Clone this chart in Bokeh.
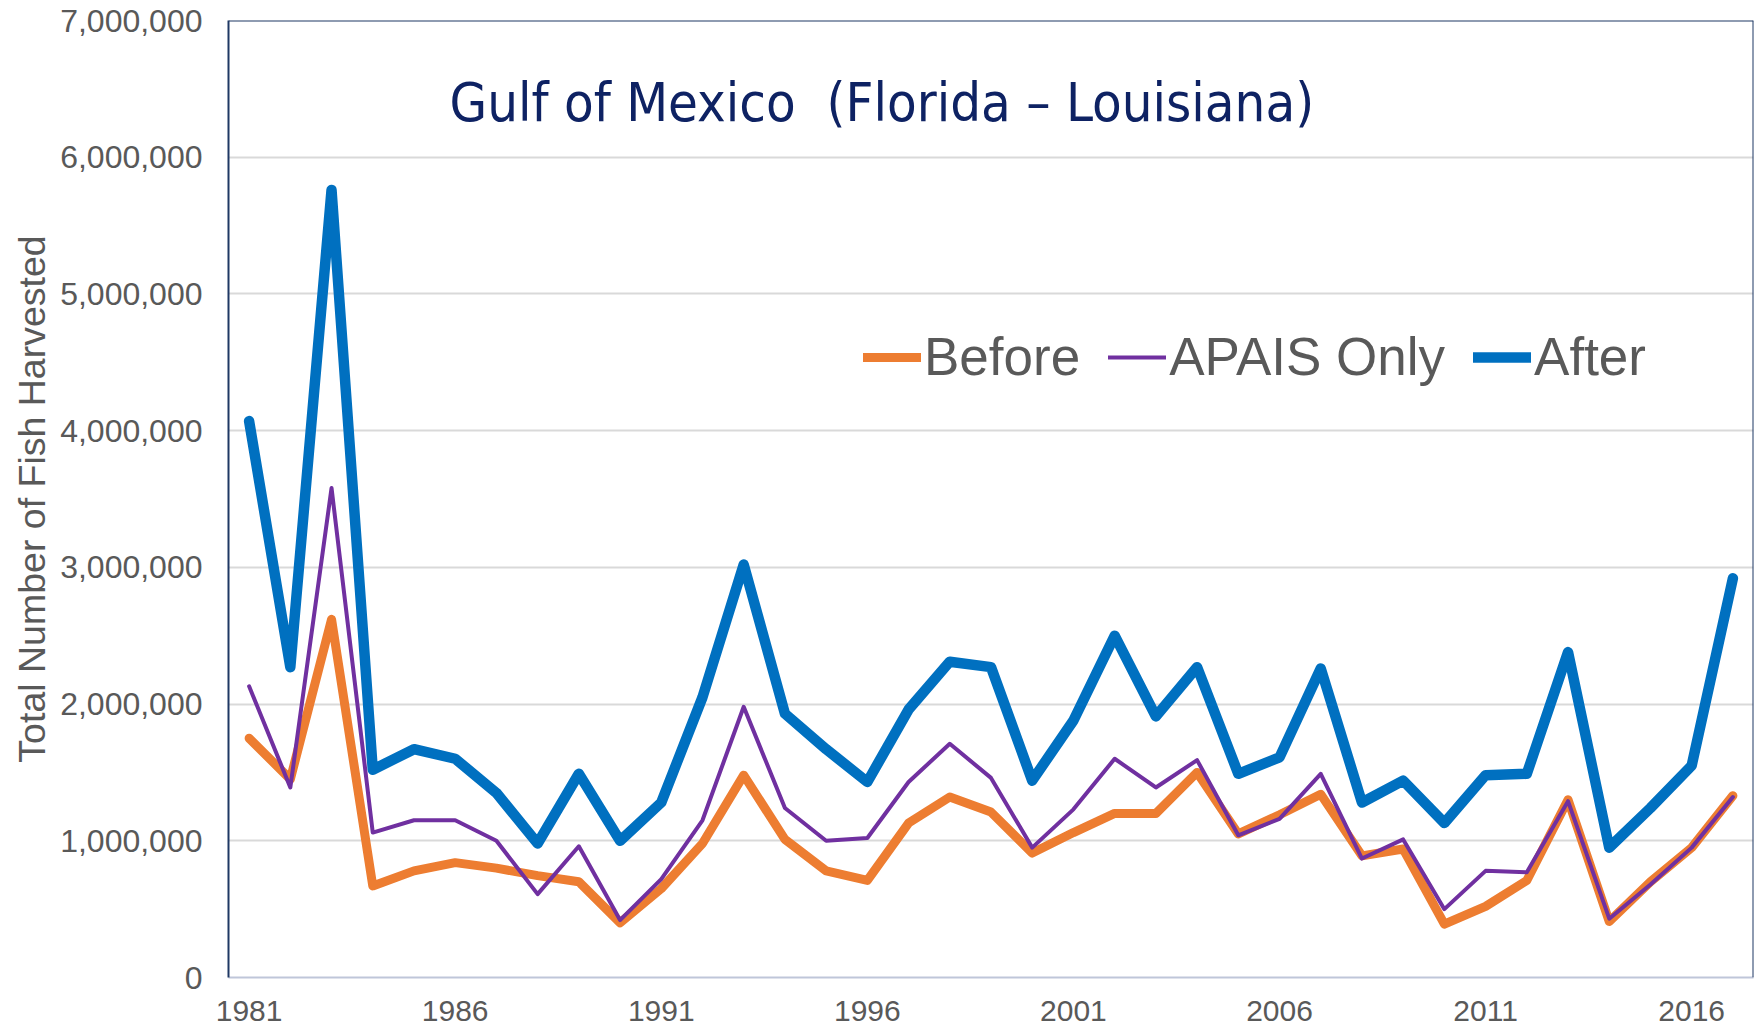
from bokeh.plotting import figure
from bokeh.models import FixedTicker, NumeralTickFormatter, Span, Label, Legend, LegendItem
from bokeh.embed import file_html
from bokeh.resources import INLINE

# ---- data ----
years = list(range(1981, 2018))
before = [1750000, 1450000, 2620000, 670000, 780000, 840000, 800000, 745000, 700000, 400000,
          650000, 980000, 1480000, 1010000, 780000, 710000, 1130000, 1320000, 1210000, 910000,
          1060000, 1200000, 1200000, 1500000, 1050000, 1190000, 1340000, 890000, 940000, 390000,
          520000, 710000, 1300000, 410000, 700000, 950000, 1330000]
apais = [2130000, 1390000, 3580000, 1060000, 1150000, 1150000, 1000000, 610000, 960000, 420000,
         720000, 1150000, 1980000, 1240000, 1000000, 1020000, 1430000, 1710000, 1460000, 950000,
         1230000, 1600000, 1390000, 1590000, 1040000, 1160000, 1490000, 870000, 1010000, 500000,
         780000, 770000, 1290000, 430000, 680000, 950000, 1320000]
after = [4070000, 2270000, 5760000, 1520000, 1670000, 1600000, 1350000, 980000, 1490000, 1000000,
         1280000, 2050000, 3020000, 1930000, 1670000, 1430000, 1960000, 2310000, 2270000, 1440000,
         1880000, 2500000, 1910000, 2270000, 1490000, 1610000, 2260000, 1280000, 1440000, 1130000,
         1480000, 1490000, 2380000, 950000, 1240000, 1550000, 2920000]
series_names = ["Before", "APAIS Only", "After"]
x_ticks = [1981, 1986, 1991, 1996, 2001, 2006, 2011, 2016]
y_ticks = [0, 1000000, 2000000, 3000000, 4000000, 5000000, 6000000, 7000000]
title_text = "Gulf of Mexico\u00a0 (Florida \u2013 Louisiana)"
y_title = "Total Number of Fish Harvested"

# ---- styles ----
ORANGE = "#ED7D31"
PURPLE = "#7030A0"
BLUE = "#0070C0"
NAVY = "#1F3864"
GREY_TXT = "#595959"
FONT = "Liberation Sans"

p = figure(width=1760, height=1030, output_backend="svg", toolbar_location=None,
           x_range=(1980.5, 2017.5), y_range=(0, 7000000),
           min_border_left=228, min_border_right=7, min_border_top=20, min_border_bottom=53)
p.outline_line_color = None
p.background_fill_color = "white"
p.border_fill_color = "white"

r_before = p.line(years, before, line_color=ORANGE, line_width=9, line_cap="round", line_join="round")
r_apais = p.line(years, apais, line_color=PURPLE, line_width=4, line_cap="round", line_join="round")
r_after = p.line(years, after, line_color=BLUE, line_width=10.5, line_cap="round", line_join="round")

legend = Legend(items=[LegendItem(label=series_names[0], renderers=[r_before]),
                       LegendItem(label=series_names[1], renderers=[r_apais]),
                       LegendItem(label=series_names[2], renderers=[r_after])],
                orientation="horizontal", location=(635, 590),
                label_text_font_size="53px", label_text_color=GREY_TXT, label_text_font=FONT,
                glyph_width=58, glyph_height=50, label_standoff=3, spacing=28,
                padding=0, margin=0, border_line_color=None, background_fill_alpha=0)
p.add_layout(legend)

# x axis
p.xaxis.ticker = FixedTicker(ticks=x_ticks)
p.xaxis.major_tick_line_color = None
p.xaxis.minor_tick_line_color = None
p.xaxis.axis_line_color = "#BFC6D9"
p.xaxis.axis_line_width = 2
p.xaxis.major_label_text_font_size = "30px"
p.xaxis.major_label_text_color = GREY_TXT
p.xaxis.major_label_text_font = FONT
p.xaxis.major_label_standoff = 17
p.xgrid.visible = False

# y axis
p.yaxis.ticker = FixedTicker(ticks=y_ticks)
p.yaxis.formatter = NumeralTickFormatter(format="0,0")
p.yaxis.major_tick_line_color = None
p.yaxis.minor_tick_line_color = None
p.yaxis.axis_line_color = NAVY
p.yaxis.axis_line_width = 2
p.yaxis.major_label_text_font_size = "32px"
p.yaxis.major_label_text_color = GREY_TXT
p.yaxis.major_label_text_font = FONT
p.yaxis.major_label_standoff = 20
p.yaxis.axis_label = y_title
p.yaxis.axis_label_text_font_size = "37.5px"
p.yaxis.axis_label_text_font_style = "normal"
p.yaxis.axis_label_text_color = GREY_TXT
p.yaxis.axis_label_text_font = FONT
p.yaxis.axis_label_standoff = 4
p.ygrid.grid_line_color = "#D9D9D9"
p.ygrid.grid_line_width = 2

# frame top / right borders
p.add_layout(Span(location=7000000, dimension="width", line_color=NAVY, line_width=2))
p.add_layout(Span(location=2017.5, dimension="height", line_color=NAVY, line_width=2))

# title inside plot
p.add_layout(Label(x=221, y=875, x_units="screen", y_units="screen", text=title_text,
                   text_font="DejaVu Sans Condensed",
                   text_font_size="54px", text_color="#0E2263", text_baseline="alphabetic"))

open("out.html", "w").write(file_html(p, INLINE))
